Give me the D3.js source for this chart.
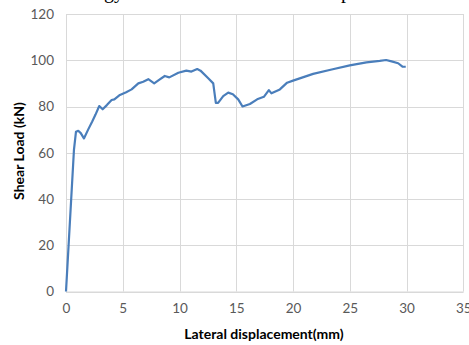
<!DOCTYPE html>
<html><head><meta charset="utf-8">
<script src="https://cdn.jsdelivr.net/npm/d3@7"></script>
<style>body{margin:0;background:#fff;} svg{display:block;}</style>
</head><body>
<svg id="c" width="469" height="345"></svg>
<script>
const dispMM = [0,0.7,0.88,1.08,1.3,1.58,1.96,2.3,2.6,2.93,3.23,3.6,4.02,4.26,4.75,5.3,5.78,6.37,6.8,7.25,7.77,8.2,8.7,9.1,9.9,10.6,11.05,11.56,11.85,12.53,12.97,13.2,13.4,13.85,14.29,14.7,15.17,15.55,16.2,16.84,17.43,17.87,18.1,18.84,19.48,20.0,21.77,23.5,25.0,26.47,27.64,28.2,28.68,29.26,29.64,29.93];
const loadKN = [0,61.2,69.1,69.5,68.5,66.2,70.1,73.4,76.5,80.2,78.8,80.6,82.8,83.1,85.0,86.2,87.4,90.0,90.7,91.8,90.0,91.5,93.2,92.6,94.6,95.5,95.1,96.2,95.5,92.2,90.0,81.6,81.6,84.5,86.0,85.3,83.1,80.0,81.1,83.1,84.2,87.1,85.7,87.4,90.3,91.2,94.1,96.1,97.8,99.1,99.7,100.1,99.5,98.7,97.2,97.2];
const xTicks = [0,5,10,15,20,25,30,35];
const yTicks = [0,20,40,60,80,100,120];

const svg = d3.select("#c");
const x = d3.scaleLinear().domain([0,35]).range([66,463.3]);
const y = d3.scaleLinear().domain([0,120]).range([291.5,14]);
const font = "Lato, 'Open Sans', sans-serif";

// cropped caption fragments at top
svg.append("text").attr("x",124).attr("y",-2).attr("text-anchor","end")
  .attr("font-family","'Liberation Serif', serif").attr("font-size",20).attr("fill","#000").text("gy");
svg.append("text").attr("x",351).attr("y",-2).attr("text-anchor","end")
  .attr("font-family","'Liberation Serif', serif").attr("font-size",20).attr("fill","#000").text("p");

// gridlines
svg.append("g").selectAll("line").data(yTicks).join("line")
  .attr("x1",x(0)).attr("x2",x(35)).attr("y1",d=>Math.round(y(d))+0.5).attr("y2",d=>Math.round(y(d))+0.5)
  .attr("stroke","#d9d9d9").attr("stroke-width",1);
svg.append("g").selectAll("line").data(xTicks).join("line")
  .attr("y1",y(0)).attr("y2",y(120)).attr("x1",d=>Math.round(x(d))+0.5).attr("x2",d=>Math.round(x(d))+0.5)
  .attr("stroke","#d9d9d9").attr("stroke-width",1);

// axes with labels only
const xAxis = d3.axisBottom(x).tickValues(xTicks).tickSize(0).tickPadding(12).tickFormat(d3.format("d"));
const gx = svg.append("g").attr("transform",`translate(0,${y(0)})`).call(xAxis);
gx.select(".domain").attr("stroke","#d9d9d9");
gx.selectAll("text").attr("font-family",font).attr("font-size",13.5).attr("fill","#595959");

const yAxis = d3.axisLeft(y).tickValues(yTicks).tickSize(0).tickPadding(12).tickFormat(d3.format("d"));
const gy = svg.append("g").attr("transform",`translate(${x(0)},0)`).call(yAxis);
gy.select(".domain").remove();
gy.selectAll("text").attr("font-family",font).attr("font-size",13.5).attr("fill","#595959");

// data line
const line = d3.line().x((d,i)=>x(dispMM[i])).y((d,i)=>y(loadKN[i])).curve(d3.curveLinear);
svg.append("path").datum(loadKN).attr("d",line).attr("fill","none")
  .attr("stroke","#4a7ebb").attr("stroke-width",2.2).attr("stroke-linejoin","round");

// axis titles
svg.append("text").attr("x",264).attr("y",339).attr("text-anchor","middle")
  .attr("font-family",font).attr("font-weight","bold").attr("font-size",14).attr("fill","#000")
  .text("Lateral displacement(mm)");
svg.append("text").attr("transform","translate(24,151) rotate(-90)").attr("text-anchor","middle")
  .attr("font-family",font).attr("font-weight","bold").attr("font-size",14).attr("fill","#000")
  .text("Shear Load  (kN)");
</script>
</body></html>
